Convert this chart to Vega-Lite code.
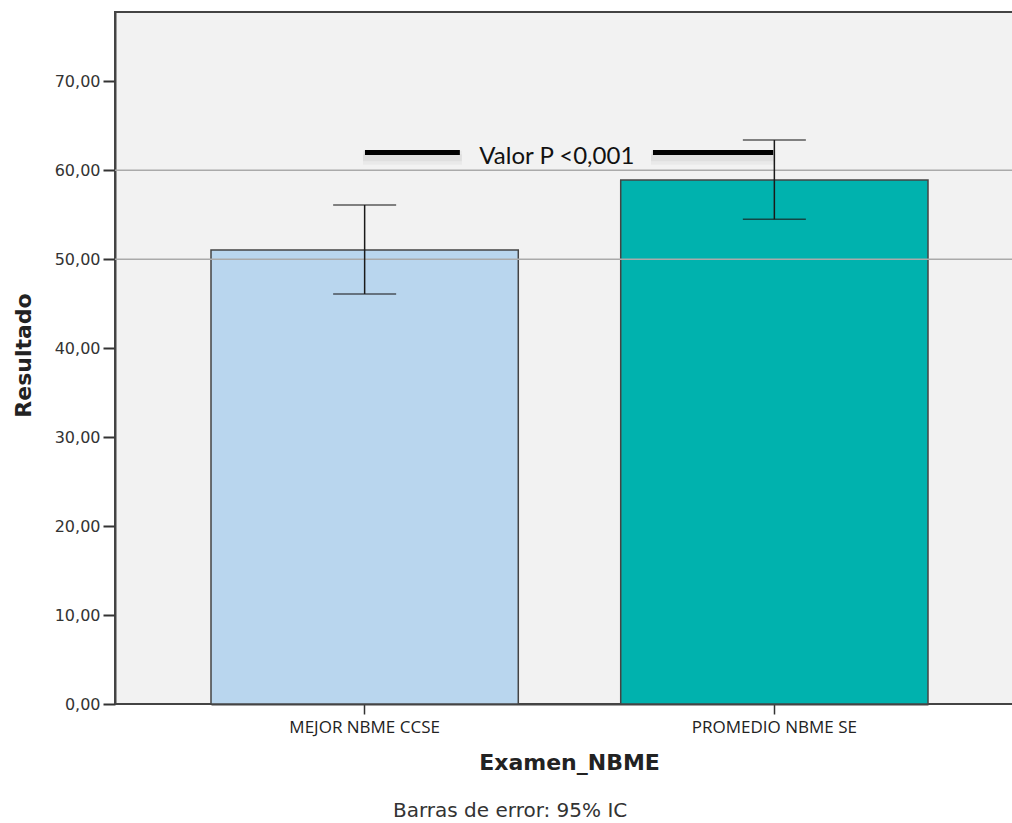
{
  "$schema": "https://vega.github.io/schema/vega-lite/v6.json",
  "width": 900,
  "height": 692,
  "autosize": {"type": "none"},
  "padding": {"left": 115, "top": 12, "right": 0, "bottom": 119},
  "background": "white",
  "config": {
    "view": {"fill": "#f2f2f2", "stroke": "#444", "strokeWidth": 2},
    "font": "DejaVu Sans"
  },
  "title": {
    "text": "Barras de error: 95% IC",
    "orient": "bottom",
    "anchor": "start",
    "frame": "group",
    "dx": 278,
    "font": "DejaVu Sans",
    "fontSize": 20,
    "fontWeight": "normal",
    "color": "#333",
    "offset": 28
  },
  "datasets": {
    "bars": [
      {"examen": "MEJOR NBME CCSE", "media": 51.03, "lo": 46.1, "hi": 56.1},
      {"examen": "PROMEDIO NBME SE", "media": 58.9, "lo": 54.5, "hi": 63.4}
    ],
    "refs": [{"valor": 50}, {"valor": 60}],
    "lines": [
      {"desde": 0.0, "hasta": 0.232, "media": 62.0},
      {"desde": 0.704, "hasta": 0.998, "media": 62.0}
    ],
    "shadow": [
      {"desde": -0.005, "hasta": 0.237, "media": 61.4},
      {"desde": 0.699, "hasta": 1.003, "media": 61.4}
    ],
    "label": [{"pos": 0.469, "media": 60.7, "texto": "Valor P <0,001"}]
  },
  "layer": [
    {
      "layer": [
        {
          "data": {"name": "bars"},
          "mark": {"type": "bar", "stroke": "#444", "strokeWidth": 1.5},
          "encoding": {
            "x": {
              "field": "examen", "type": "nominal", "sort": null,
              "scale": {"range": [96, 813], "paddingInner": 0.25, "paddingOuter": 0},
              "axis": {
                "title": "Examen_NBME",
                "titleFont": "DejaVu Sans", "titleFontSize": 22, "titleFontWeight": "bold", "titleColor": "#222",
                "titleX": 454, "titleY": 58, "titleAlign": "center", "titleBaseline": "middle",
                "labelFont": "Open Sans", "labelFontSize": 17, "labelColor": "#222", "labelAngle": 0,
                "labelPadding": 5,
                "tickSize": 10, "tickColor": "#333", "tickWidth": 1.5,
                "domainColor": "#444", "domainWidth": 2
              }
            },
            "y": {
              "field": "media", "type": "quantitative",
              "scale": {"domain": [0, 77.8], "nice": false, "zero": true},
              "axis": {
                "title": "Resultado",
                "titleFont": "DejaVu Sans", "titleFontSize": 22, "titleFontWeight": "bold", "titleColor": "#222",
                "titleX": -92, "titleY": 343, "titleAngle": -90, "titleBaseline": "middle", "titleAlign": "center",
                "values": [0, 10, 20, 30, 40, 50, 60, 70],
                "labelExpr": "replace(format(datum.value, '.2f'), '.', ',')",
                "labelFont": "DejaVu Sans", "labelFontSize": 16, "labelColor": "#333",
                "labelPadding": 3,
                "tickSize": 12, "tickColor": "#333", "tickWidth": 2,
                "domainColor": "#444", "domainWidth": 2,
                "grid": false
              }
            },
            "color": {
              "field": "examen", "type": "nominal",
              "scale": {"domain": ["MEJOR NBME CCSE", "PROMEDIO NBME SE"], "range": ["#b9d6ee", "#00b2ae"]},
              "legend": null
            }
          }
        },
        {
          "data": {"name": "refs"},
          "mark": {"type": "rule", "color": "#aaaaaa", "strokeWidth": 1.5},
          "encoding": {
            "y": {"field": "valor", "type": "quantitative", "title": "Resultado"}
          }
        },
        {
          "data": {"name": "bars"},
          "mark": {"type": "rule", "color": "#1a1a1a", "strokeWidth": 1.5},
          "encoding": {
            "x": {"field": "examen", "type": "nominal", "sort": null},
            "y": {"field": "lo", "type": "quantitative", "title": "Resultado"},
            "y2": {"field": "hi"}
          }
        },
        {
          "data": {"name": "bars"},
          "mark": {"type": "tick", "color": "#1a1a1a", "thickness": 1.5, "size": 63},
          "encoding": {
            "x": {"field": "examen", "type": "nominal", "sort": null},
            "y": {"field": "lo", "type": "quantitative", "title": "Resultado"}
          }
        },
        {
          "data": {"name": "bars"},
          "mark": {"type": "tick", "color": "#1a1a1a", "thickness": 1.5, "size": 63},
          "encoding": {
            "x": {"field": "examen", "type": "nominal", "sort": null},
            "y": {"field": "hi", "type": "quantitative", "title": "Resultado"}
          }
        }
      ]
    },
    {
      "layer": [
        {
          "data": {"name": "shadow"},
          "mark": {"type": "rule", "color": "#000", "strokeWidth": 14, "opacity": 0.035},
          "encoding": {
            "x": {"field": "desde", "type": "quantitative", "scale": {"domain": [-0.611, 1.589], "nice": false, "zero": false}, "axis": null},
            "x2": {"field": "hasta"},
            "y": {"field": "media", "type": "quantitative", "title": "Resultado"}
          }
        },
        {
          "data": {"name": "shadow"},
          "mark": {"type": "rule", "color": "#000", "strokeWidth": 7, "opacity": 0.04},
          "encoding": {
            "x": {"field": "desde", "type": "quantitative", "axis": null},
            "x2": {"field": "hasta"},
            "y": {"field": "media", "type": "quantitative", "title": "Resultado"}
          }
        },
        {
          "data": {"name": "lines"},
          "mark": {"type": "rule", "color": "#000", "strokeWidth": 5},
          "encoding": {
            "x": {"field": "desde", "type": "quantitative", "axis": null},
            "x2": {"field": "hasta"},
            "y": {"field": "media", "type": "quantitative", "title": "Resultado"}
          }
        },
        {
          "data": {"name": "label"},
          "mark": {"type": "text", "font": "Lato", "fontSize": 24, "color": "#111", "align": "center", "baseline": "alphabetic"},
          "encoding": {
            "x": {"field": "pos", "type": "quantitative", "axis": null},
            "y": {"field": "media", "type": "quantitative", "title": "Resultado"},
            "text": {"field": "texto"}
          }
        }
      ]
    }
  ],
  "resolve": {"scale": {"x": "independent"}}
}
